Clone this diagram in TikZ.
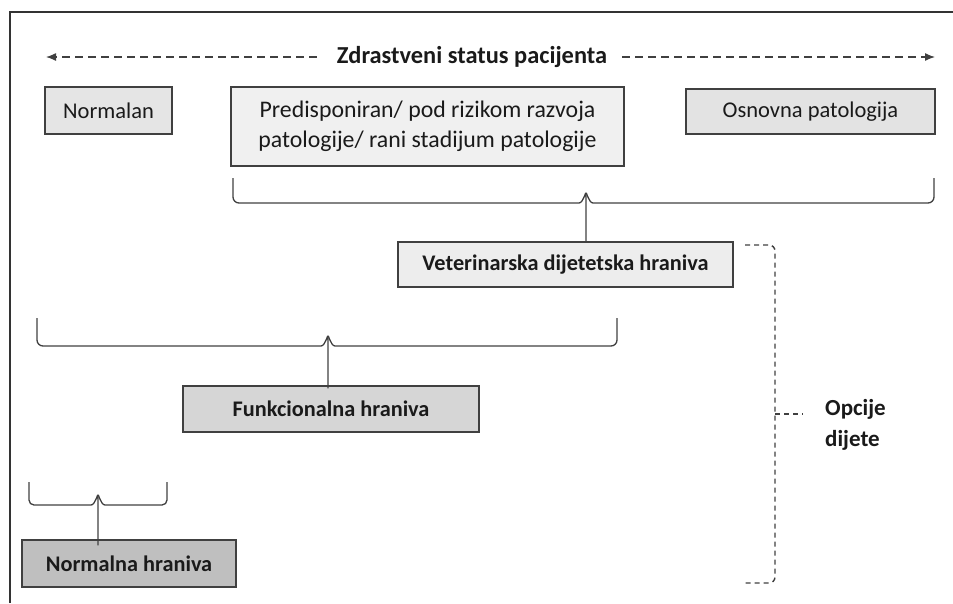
\documentclass[tikz,border=0pt]{standalone}
\usepackage{fontspec}
\setmainfont{Carlito}
\usetikzlibrary{arrows.meta}
\definecolor{ln}{HTML}{404040}
\definecolor{txt}{HTML}{1A1A1A}
\tikzset{
  box/.style={draw=ln, line width=1.4pt, inner sep=0pt, text=txt, align=center},
  normtxt/.style={font=\fontsize{22.5}{30}\selectfont},
  boldtxt/.style={font=\fontsize{22.3}{26}\selectfont\bfseries},
  brace/.style={draw=ln, line width=1.3pt},
  dashbr/.style={draw=ln, line width=1.4pt, dash pattern=on 5pt off 4pt},
  statusarrow/.style={draw=ln, line width=1.3pt, dash pattern=on 8pt off 5pt, -{Latex[length=10pt,width=8pt]}},
}
\begin{document}
\begin{tikzpicture}[x=1pt,y=-1pt]
\useasboundingbox (0,0) rectangle (953,603);
% frame
\draw[line width=2.6pt, color=black!80] (10,603) -- (10,12) -- (953,12);

% status line
\node[text=txt, inner sep=0pt, font=\fontsize{24.4}{28}\selectfont\bfseries] (title) at (472,57) {Zdrastveni status pacijenta};
\coordinate (leftend) at (46,57);
\coordinate (rightend) at (935,57);
\draw[statusarrow] ([xshift=-20pt]title.west) -- (leftend);
\draw[statusarrow] ([xshift=15pt]title.east) -- (rightend);

% top row boxes
\node[box, normtxt, fill=black!10, minimum width=127pt, minimum height=47pt] (norm) at (108.5,110.5) {Normalan};
\node[box, font=\fontsize{23.8}{30}\selectfont, fill=black!6, minimum width=393pt, minimum height=79pt] (pred) at (427.5,126.5) {Predisponiran/ pod rizikom razvoja\\patologije/ rani stadijum patologije};
\node[box, normtxt, fill=black!11, minimum width=249pt, minimum height=45pt] (osn) at (810.5,111.5) {Osnovna patologija};

% veterinarska
\node[box, boldtxt, fill=black!7, minimum width=335pt, minimum height=45pt] (vet) at (565.5,264.5) {Veterinarska dijetetska hraniva};
% funkcionalna
\node[box, boldtxt, fill=black!16, minimum width=296pt, minimum height=46pt] (funk) at (331,409) {Funkcionalna hraniva};
% normalna hraniva
\node[box, boldtxt, fill=black!25, minimum width=214pt, minimum height=47pt] (nh) at (129,563.5) {Normalna hraniva};

% brace 1 -> vet
\coordinate (b1l) at (233,178);
\coordinate (b1r) at (934,178);
\coordinate (b1m) at (586,203);
\draw[brace] (b1l) -- ++(0,19) to[out=-90,in=180] ++(6,6) -- ([xshift=-7pt]b1m) to[out=0,in=90] ([yshift=9pt]b1m) -- (vet.north -| b1m);
\draw[brace] (b1r) -- ++(0,19) to[out=-90,in=0] ++(-6,6) -- ([xshift=7pt]b1m) to[out=180,in=90] ([yshift=9pt]b1m);

% brace 2 -> funk
\coordinate (b2l) at (37,318);
\coordinate (b2r) at (617,318);
\coordinate (b2m) at (328,346);
\draw[brace] (b2l) -- ++(0,22) to[out=-90,in=180] ++(6,6) -- ([xshift=-7pt]b2m) to[out=0,in=90] ([yshift=9pt]b2m) -- ([yshift=-3pt]funk.north -| b2m);
\draw[brace] (b2r) -- ++(0,22) to[out=-90,in=0] ++(-6,6) -- ([xshift=7pt]b2m) to[out=180,in=90] ([yshift=9pt]b2m);

% brace 3 -> normalna hraniva
\coordinate (b3l) at (29,482);
\coordinate (b3r) at (167,482);
\coordinate (b3m) at (98,505);
\draw[brace] (b3l) -- ++(0,18) to[out=-90,in=180] ++(5,5) -- ([xshift=-7pt]b3m) to[out=0,in=90] ([yshift=9pt]b3m) -- ([yshift=-6pt]nh.north -| b3m);
\draw[brace] (b3r) -- ++(0,18) to[out=-90,in=0] ++(-5,5) -- ([xshift=7pt]b3m) to[out=180,in=90] ([yshift=9pt]b3m);

% dashed bracket
\node[text=txt, align=left, anchor=west, inner sep=0pt, font=\fontsize{23}{31}\selectfont\bfseries] (opc) at (825,425) {Opcije\\dijete};
\coordinate (dt) at (745,245);
\coordinate (db) at (745,583);
\coordinate (dm) at (775,414);
\draw[dashbr] (dt) -- (769,245) to[out=0,in=90] (775,251) -- (775,577) to[out=-90,in=0] (769,583) -- (db);
\draw[dashbr] (dm) -- ([xshift=-22pt]opc.west |- dm);
\end{tikzpicture}
\end{document}
